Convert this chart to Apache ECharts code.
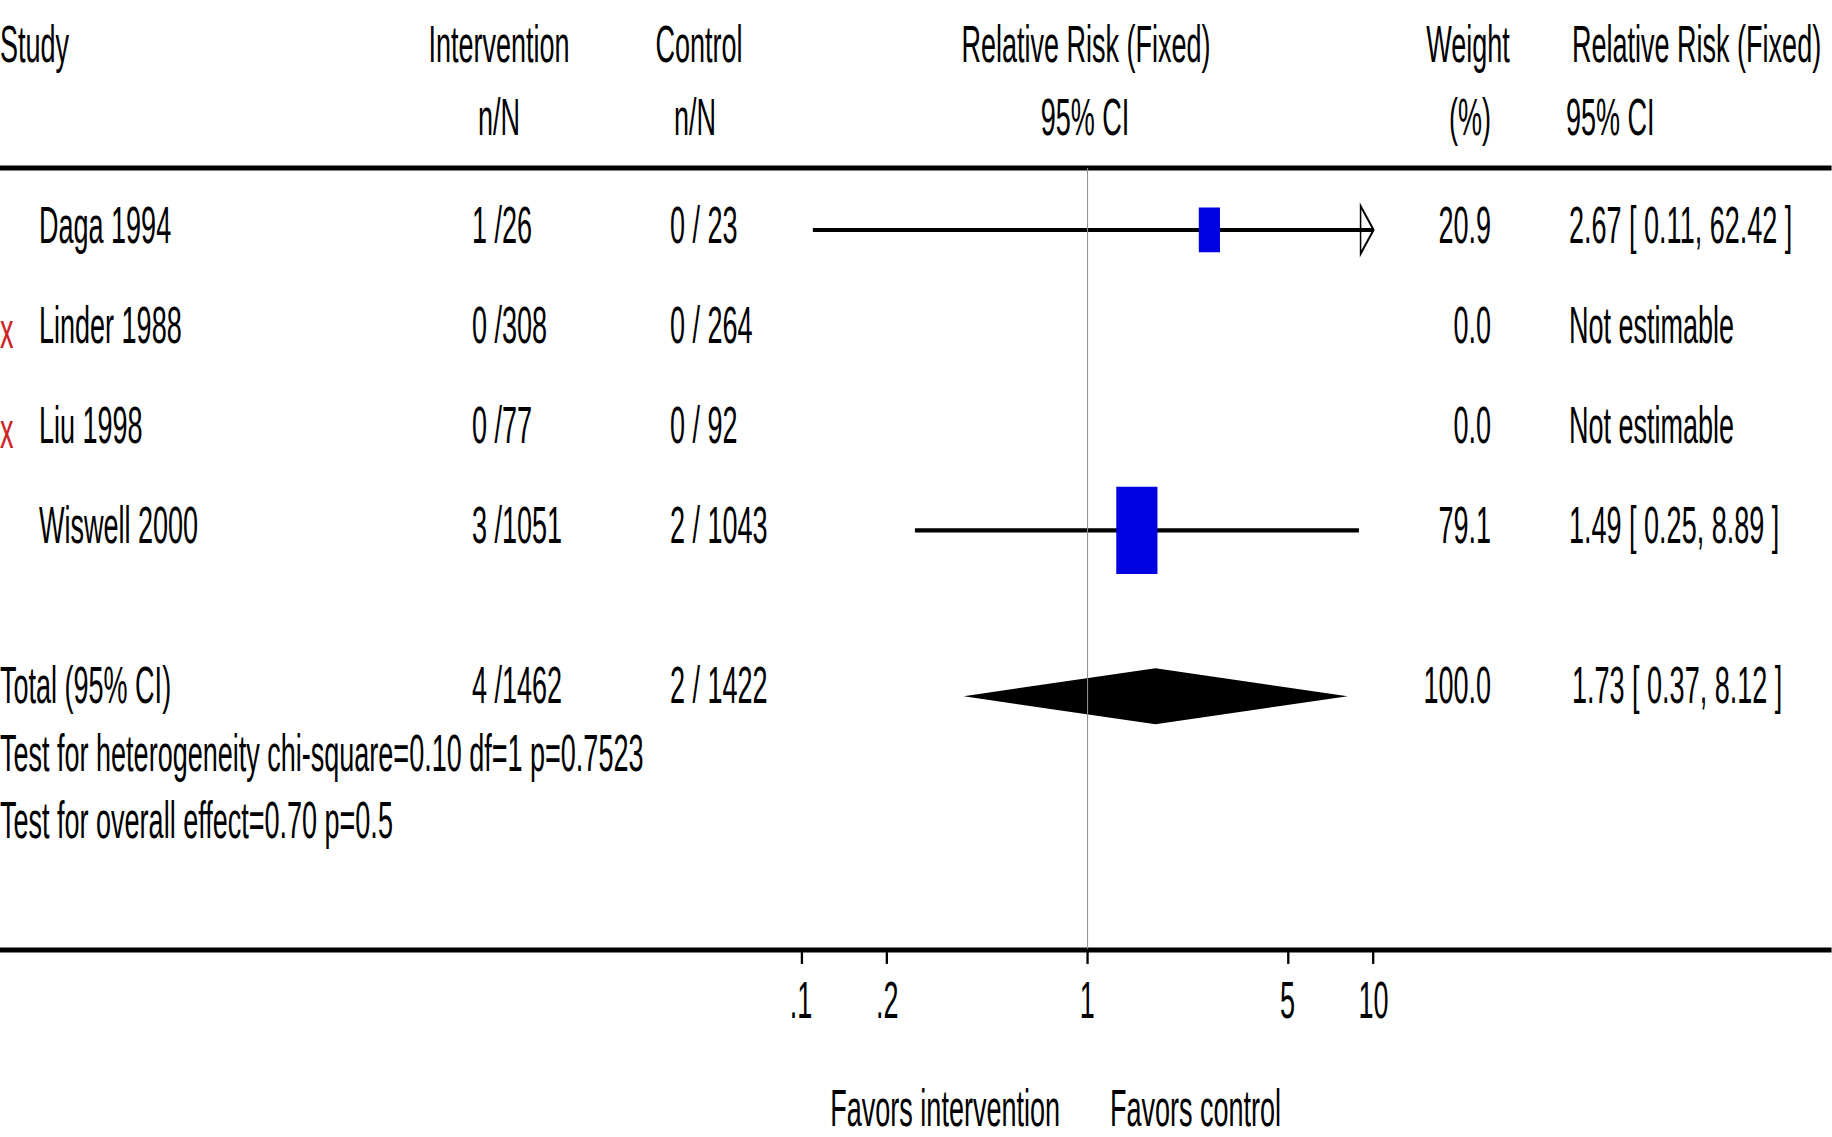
<!DOCTYPE html>
<html>
<head>
<meta charset="utf-8">
<title>Relative Risk (Fixed) forest plot</title>
<script src="https://cdn.jsdelivr.net/npm/echarts@6/dist/echarts.min.js"></script>
<style>
  html, body { margin: 0; padding: 0; background: #fff; overflow: hidden; }
  #chart { position: absolute; left: 0; top: 0; transform-origin: 0 0; }
</style>
</head>
<body>
<div id="chart"></div>
<script>
// ---- Study data ----
const studies   = ['Daga 1994', 'Linder 1988', 'Liu 1998', 'Wiswell 2000'];
const intEvents = [1, 0, 0, 3];
const intTotals = [26, 308, 77, 1051];
const ctlEvents = [0, 0, 0, 2];
const ctlTotals = [23, 264, 92, 1043];
const weights   = [20.9, 0.0, 0.0, 79.1];
const rrEst     = [2.67, null, null, 1.49];
const rrLow     = [0.11, null, null, 0.25];
const rrHigh    = [62.42, null, null, 8.89];

// ---- Pooled result and tests ----
const totalWeight = 100.0;
const totalRR     = [1.73, 0.37, 8.12];   // estimate, lower, upper
const heteroChi2  = 0.10;
const heteroDf    = 1;
const heteroP     = '0.7523';
const overallZ    = 0.70;
const overallP    = '0.5';

// ---- Axis ticks ----
const tickValues = [0.1, 0.2, 1, 5, 10];
const tickLabels = ['.1', '.2', '1', '5', '10'];

// ---- Layout (page pixels), glyphs drawn tall and narrow ----
const PAGE_W = 1832, PAGE_H = 1137;
const SX = 1.93, SY = 3.7;
const W = PAGE_W / SX, H = PAGE_H / SY;
const px = v => v / SX;
const py = v => v / SY;
const FONT_FAMILY = '"Liberation Sans", Arial, Helvetica, sans-serif';
const FS = 14;
const FONT = FS + 'px ' + FONT_FAMILY;

const X_MIN = 0.1, X_MAX = 10;
const PLOT_L = 801, PLOT_R = 1374;        // page x of 0.1 and 10
const RULE_TOP = 168, RULE_AXIS = 950;
const ROW0 = 230, ROW_PITCH = 100.3;
const totalRow = studies.length + 0.656;
const rowY = r => ROW0 + r * ROW_PITCH;

const dom = document.getElementById('chart');
dom.style.width = W + 'px';
dom.style.height = H + 'px';
dom.style.transform = 'scale(' + SX + ',' + SY + ')';

function txt(text, x, y, align, color) {
  return {
    type: 'text', x: px(x), y: py(y), silent: true,
    style: { text: text, fill: color || '#000', font: FONT, align: align || 'left', verticalAlign: 'middle' }
  };
}
function hrule(y) {
  return { type: 'line', silent: true, shape: { x1: 0, y1: py(y), x2: W, y2: py(y) },
           style: { stroke: '#000', lineWidth: 1.3 } };
}
const sum = a => a.reduce((s, v) => s + v, 0);
const ciText = (e, l, u) => e == null ? 'Not estimable'
  : e.toFixed(2) + ' [ ' + l.toFixed(2) + ', ' + u.toFixed(2) + ' ]';

// ---- Table text ----
const graphics = [
  txt('Study', 0, 44),
  txt('Intervention', 499, 44, 'center'), txt('n/N', 499, 117, 'center'),
  txt('Control', 699, 44, 'center'),      txt('n/N', 695, 117, 'center'),
  txt('Relative Risk (Fixed)', 1086, 44, 'center'), txt('95% CI', 1085, 117, 'center'),
  txt('Weight', 1468, 44, 'center'),      txt('(%)', 1470, 117, 'center'),
  txt('Relative Risk (Fixed)', 1572, 44), txt('95% CI', 1566, 117),
  hrule(RULE_TOP), hrule(RULE_AXIS)
];

studies.forEach((name, i) => {
  const y = rowY(i) - 5;
  if (rrEst[i] == null) graphics.push(txt('x', 0, rowY(i), 'left', '#cc2222'));
  graphics.push(txt(name, 39, y));
  graphics.push(txt(intEvents[i] + ' /' + intTotals[i], 472, y));
  graphics.push(txt(ctlEvents[i] + ' / ' + ctlTotals[i], 670, y));
  graphics.push(txt(weights[i].toFixed(1), 1491, y, 'right'));
  graphics.push(txt(ciText(rrEst[i], rrLow[i], rrHigh[i]), 1569, y));
});

graphics.push(
  txt('Total (95% CI)', 0, 685),
  txt(sum(intEvents) + ' /' + sum(intTotals), 472, 685),
  txt(sum(ctlEvents) + ' / ' + sum(ctlTotals), 670, 685),
  txt(totalWeight.toFixed(1), 1491, 685, 'right'),
  txt(ciText(totalRR[0], totalRR[1], totalRR[2]), 1572, 685),
  txt('Test for heterogeneity chi-square=' + heteroChi2.toFixed(2) + ' df=' + heteroDf + ' p=' + heteroP, 0, 753),
  txt('Test for overall effect=' + overallZ.toFixed(2) + ' p=' + overallP, 0, 820),
  txt('Favors intervention', 1060, 1108, 'right'),
  txt('Favors control', 1110, 1108)
);

// ---- Marks ----
const squareData = [], ciData = [];
studies.forEach((name, i) => {
  if (rrEst[i] == null) return;
  squareData.push([rrEst[i], i, weights[i]]);
  ciData.push([rrLow[i], rrHigh[i], i]);
});
const diamondData = [[totalRR[1], totalRR[0], totalRR[2], totalRow]];

const chart = echarts.init(dom, null, { renderer: 'svg' });
chart.setOption({
  animation: false,
  backgroundColor: '#fff',
  grid: {
    left: px(PLOT_L), right: W - px(PLOT_R),
    top: py(RULE_TOP), bottom: H - py(RULE_AXIS),
    containLabel: false, outerBoundsMode: 'none'
  },
  xAxis: {
    type: 'log', logBase: 10, min: X_MIN, max: X_MAX,
    position: 'bottom',
    axisLine: { show: false, onZero: false },
    splitLine: { show: false },
    minorTick: { show: false },
    axisTick: {
      show: true, customValues: tickValues, length: py(15),
      lineStyle: { color: '#000', width: 1.2 }
    },
    axisLabel: {
      customValues: tickValues, margin: 7, color: '#000',
      fontSize: FS, fontFamily: FONT_FAMILY,
      formatter: v => {
        const k = tickValues.findIndex(t => Math.abs(t - v) < 1e-9 * Math.max(1, t));
        return k >= 0 ? tickLabels[k] : '';
      }
    }
  },
  yAxis: {
    type: 'value', inverse: true, show: false,
    min: (RULE_TOP - ROW0) / ROW_PITCH,
    max: (RULE_AXIS - ROW0) / ROW_PITCH
  },
  graphic: { elements: graphics },
  series: [
    {
      // pooled diamond, with the line of no effect
      type: 'custom', z: 1, silent: true,
      encode: { x: [0, 1, 2], y: 3 },
      data: diamondData,
      renderItem: (params, api) => {
        const r = api.value(3);
        const L = api.coord([api.value(0), r]);
        const C = api.coord([api.value(1), r]);
        const R = api.coord([api.value(2), r]);
        const h = py(28);
        return { type: 'polygon',
                 shape: { points: [L, [C[0], C[1] - h], R, [C[0], C[1] + h]] },
                 style: { fill: '#000' } };
      },
      markLine: {
        silent: true, symbol: 'none', label: { show: false },
        lineStyle: { color: '#8f8f8f', width: 0.55, type: 'solid' },
        data: [{ xAxis: 1 }]
      }
    },
    {
      // confidence intervals
      type: 'custom', z: 2, silent: true,
      encode: { x: [0, 1], y: 2 },
      data: ciData,
      renderItem: (params, api) => {
        const lo = api.value(0), hi = api.value(1), r = api.value(2);
        const a = api.coord([Math.max(lo, X_MIN), r]);
        const b = api.coord([Math.min(hi, X_MAX), r]);
        const children = [{ type: 'line', shape: { x1: a[0], y1: a[1], x2: b[0], y2: b[1] },
                            style: { stroke: '#000', lineWidth: 1.1 } }];
        if (hi > X_MAX) {
          children.push({ type: 'polygon',
            shape: { points: [[b[0], b[1]], [b[0] - px(13), b[1] - py(24)], [b[0] - px(13), b[1] + py(24)]] },
            style: { fill: 'none', stroke: '#000', lineWidth: 0.8 } });
        }
        return { type: 'group', children: children };
      }
    },
    {
      // study estimates, box area proportional to weight
      type: 'scatter', z: 3, silent: true,
      symbol: 'rect',
      symbolSize: v => [2.4 * Math.sqrt(v[2]), 2.65 * Math.sqrt(v[2])],
      itemStyle: { color: '#0000e0', opacity: 1 },
      data: squareData
    }
  ]
});
</script>
</body>
</html>
